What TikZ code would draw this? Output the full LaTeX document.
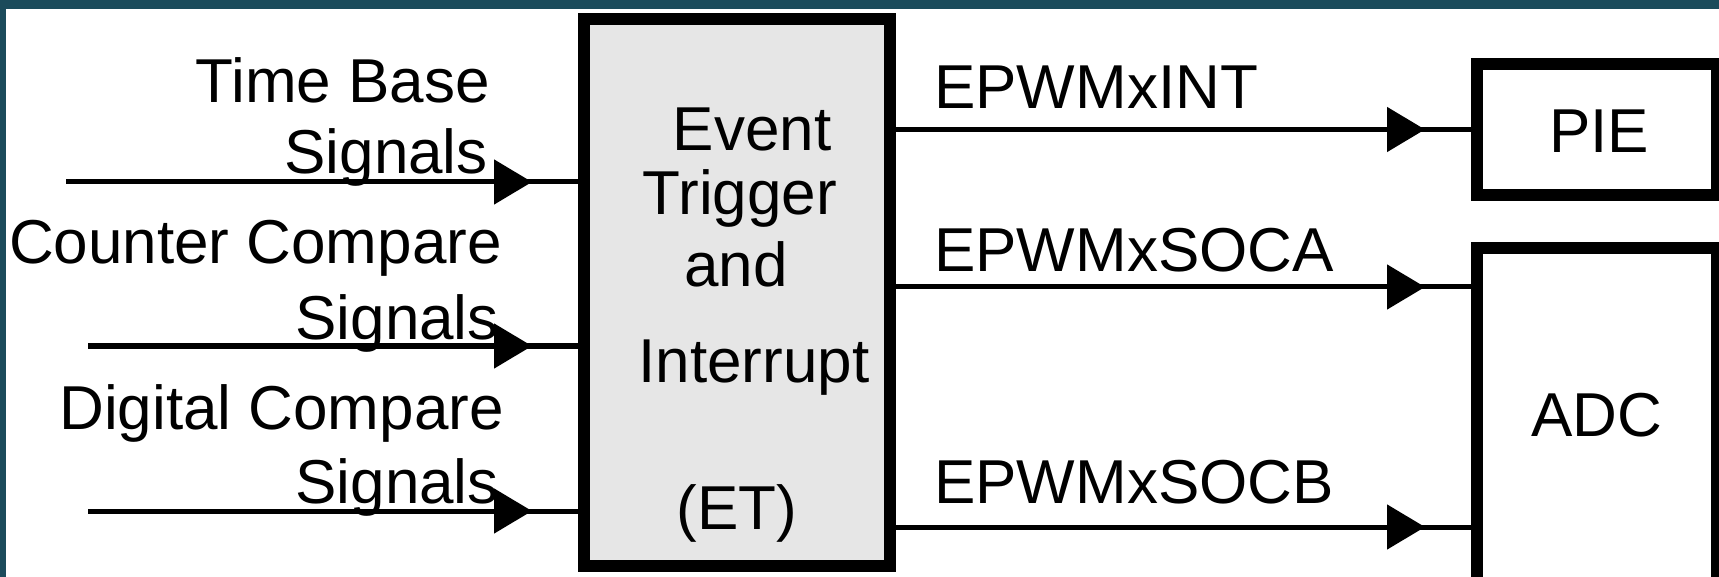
\documentclass[tikz,border=0pt]{standalone}
\usepackage{fontspec}
\setmainfont{Liberation Sans}
\usetikzlibrary{arrows.meta,decorations.markings}

\definecolor{framedark}{HTML}{1B4B5B}
\definecolor{framelight}{HTML}{3E7D72}
\definecolor{boxgray}{HTML}{E6E6E6}

\tikzset{
  blk/.style={draw=black, line width=12pt, inner sep=0pt},
  sig/.style={line width=5pt, postaction={decorate},
    decoration={markings, mark=at position -46pt with {\arrow{Triangle[length=38pt,width=44pt]}}}},
  lbl/.style={font=\fontsize{62}{62}\selectfont, inner sep=0pt},
}

\begin{document}
\begin{tikzpicture}[x=1pt, y=-1pt]
  % page and frame
  \clip (0,0) rectangle (1719,577);
  \fill[white] (0,0) rectangle (1719,577);
  \fill[framedark] (0,0) rectangle (6,577);
  \shade[left color=framedark, middle color=framelight, right color=framedark] (0,0) rectangle (1719,9);

  % blocks
  \node[blk, fill=boxgray, minimum width=306pt, minimum height=547pt] (et) at (737,292.5) {};
  \node[blk, minimum width=240pt, minimum height=131pt] (pie) at (1597,129.5) {};
  \node[blk, minimum width=240pt, minimum height=352pt] (adc) at (1597,424) {};

  \node[lbl, anchor=base] (et1) at (752,151) {Event};
  \node[lbl, anchor=base] (et2) at (740,215) {Trigger};
  \node[lbl, anchor=base] (et3) at (736,287) {and};
  \node[lbl, anchor=base] (et4) at (754,382) {Interrupt};
  \node[lbl, anchor=base] (et5) at (737,529) {(ET)};
  \node[lbl, anchor=base] (pietxt) at (1599,153) {PIE};
  \node[lbl, anchor=base] (adctxt) at (1597,436) {ADC};

  % inputs
  \node[lbl, anchor=base east] (tb1) at (490,103) {Time Base};
  \node[lbl, anchor=base east] (tb2) at (488,174) {Signals};
  \node[lbl, anchor=base east] (cc1) at (502,264) {Counter Compare};
  \node[lbl, anchor=base east] (cc2) at (499,339) {Signals};
  \node[lbl, anchor=base east] (dc1) at (504,429) {Digital Compare};
  \node[lbl, anchor=base east] (dc2) at (499,503) {Signals};

  \coordinate (tb) at (66,182);
  \coordinate (cc) at (88,346);
  \coordinate (dc) at (88,511);
  \draw[sig] (tb) -- (tb -| et.west);
  \draw[sig] (cc) -- (cc -| et.west);
  \draw[sig] (dc) -- (dc -| et.west);

  % outputs
  \node[lbl, anchor=base west] (int) at (934,109) {EPWMxINT};
  \node[lbl, anchor=base west] (soca) at (934,272) {EPWMxSOCA};
  \node[lbl, anchor=base west] (socb) at (934,503) {EPWMxSOCB};

  \coordinate (ya) at (0,287);
  \coordinate (yb) at (0,527);
  \draw[sig] (et.east |- pie.west) -- (pie.west);
  \draw[sig] (et.east |- ya) -- (adc.west |- ya);
  \draw[sig] (et.east |- yb) -- (adc.west |- yb);
\end{tikzpicture}
\end{document}
